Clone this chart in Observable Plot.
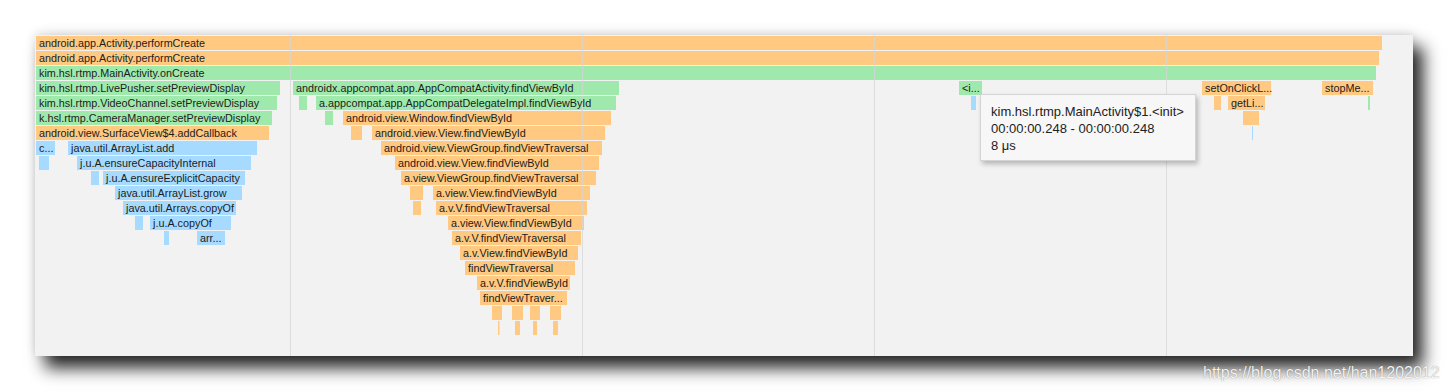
<!DOCTYPE html>
<html><head><meta charset="utf-8">
<script src="https://cdn.jsdelivr.net/npm/d3@7"></script>
<script src="https://cdn.jsdelivr.net/npm/@observablehq/plot@0.6"></script>
<style>
html,body{margin:0;padding:0;background:#fff;width:1448px;height:392px;overflow:hidden;}
#panel{position:absolute;left:35px;top:35px;width:1378px;height:321px;background:#f2f2f2;box-shadow:10px 12px 16px rgba(0,0,0,0.85), 0 -2px 10px rgba(0,0,0,0.12);}
#panel svg{display:block;}
#tip{position:absolute;background:#f7f7f7;border:1px solid #d4d4d4;box-shadow:2px 3px 5px rgba(0,0,0,0.25);font:13px "Liberation Sans",Arial,sans-serif;color:#222;padding:8px 10px 6px 10px;line-height:17px;white-space:nowrap;width:194px;height:51px;box-sizing:content-box;}
#wm{position:absolute;left:1203px;top:364px;font:16px "Liberation Sans",Arial,sans-serif;color:#f2f2f2;text-shadow:0 0 1px rgba(0,0,0,0.45);}
</style></head><body>
<div id="panel"></div>
<div id="wm">https://blog.csdn.net/han1202012</div>
<script>
// Flame chart frames (time in chart units, depth = call stack level)
const labels = [
  "android.app.Activity.performCreate","android.app.Activity.performCreate","kim.hsl.rtmp.MainActivity.onCreate",
  "kim.hsl.rtmp.LivePusher.setPreviewDisplay","androidx.appcompat.app.AppCompatActivity.findViewById","<i...","setOnClickL...","stopMe...",
  "kim.hsl.rtmp.VideoChannel.setPreviewDisplay","","a.appcompat.app.AppCompatDelegateImpl.findViewById","","","getLi...","",
  "k.hsl.rtmp.CameraManager.setPreviewDisplay","","android.view.Window.findViewById","",
  "android.view.SurfaceView$4.addCallback","","android.view.View.findViewById","",
  "c...","java.util.ArrayList.add","android.view.ViewGroup.findViewTraversal",
  "","j.u.A.ensureCapacityInternal","android.view.View.findViewById",
  "","j.u.A.ensureExplicitCapacity","a.view.ViewGroup.findViewTraversal",
  "java.util.ArrayList.grow","","a.view.View.findViewById",
  "java.util.Arrays.copyOf","","a.v.V.findViewTraversal",
  "","j.u.A.copyOf","a.view.View.findViewById",
  "","arr...","a.v.V.findViewTraversal",
  "a.v.View.findViewById","findViewTraversal","a.v.V.findViewById","findViewTraver...",
  "","","","",
  "","","",""
];
const depths = [
  0,1,2,
  3,3,3,3,3,
  4,4,4,4,4,4,4,
  5,5,5,5,
  6,6,6,6,
  7,7,7,
  8,8,8,
  9,9,9,
  10,10,10,
  11,11,11,
  12,12,12,
  13,13,13,
  14,15,16,17,
  18,18,18,18,
  19,19,19,19
];
const starts = [
  1,1,1,
  1,258,924,1167,1287,
  1,264,281,936,1179,1193,1333,
  1,290,308,1208,
  1,316,337,1217,
  1,33,346,
  4,42,360,
  56,68,366,
  80,375,398,
  88,378,401,
  100,115,413,
  129,162,417,
  425,430,442,445,
  457,477,495,515,
  463,480,498,518
];
const ends = [
  1347,1344,1341,
  245,584,947,1236,1338,
  242,272,581,941,1186,1230,1335,
  237,298,576,1224,
  234,327,570,1218,
  20,222,567,
  14,216,564,
  64,210,561,
  207,388,555,
  201,386,552,
  108,196,549,
  134,190,546,
  543,540,535,532,
  467,488,505,526,
  464.5,485,502,523
];
// P = platform (orange), U = user code (green), L = java library (blue)
const kinds = [
  "P","P","U",
  "U","U","U","P","P",
  "U","U","U","L","P","P","U",
  "U","U","P","P",
  "P","P","P","L",
  "L","L","P",
  "L","L","P",
  "L","L","P",
  "L","P","P",
  "L","P","P",
  "L","L","P",
  "L","L","P",
  "P","P","P","P",
  "P","P","P","P",
  "P","P","P","P"
];
const gridTimes = [255, 547, 839, 1131];
const tooltipLines = ["kim.hsl.rtmp.MainActivity$1.<init>", "00:00:00.248 - 00:00:00.248", "8 μs"];
const tooltipFrame = 11; // the hovered frame's child bar

const frames = labels.map((label, i) => ({label, depth: depths[i], start: starts[i], end: ends[i], kind: kinds[i]}));

const chart = Plot.plot({
  width: 1378, height: 321,
  marginTop: 0, marginRight: 0, marginBottom: 0, marginLeft: 0,
  x: {domain: [0, 1378], range: [0, 1378], axis: null},
  y: {domain: [0, 21.4], range: [1, 322], axis: null},
  color: {domain: ["P", "U", "L"], range: ["#ffc981", "#a0e9ad", "#a6dbff"]},
  style: {background: "transparent", overflow: "visible"},
  marks: [
    Plot.rect(frames, {x1: "start", x2: "end", y1: "depth", y2: d => d.depth + 1, insetBottom: 1, fill: "kind"}),
    Plot.ruleX(gridTimes, {stroke: "#d6d6d6", strokeOpacity: 0.75}),
    Plot.text(frames.filter(d => d.label), {
      x: "start", y: d => d.depth + 0.467, text: "label", textAnchor: "start", dx: 2.5,
      fontSize: 10.8, fontFamily: "'Liberation Sans', Arial, sans-serif", fill: "#1c1c1c"
    })
  ]
});
const panel = document.getElementById("panel");
panel.appendChild(chart);

const xs = chart.scale("x"), ys = chart.scale("y");
const f = frames[tooltipFrame];
const tip = document.createElement("div");
tip.id = "tip";
tip.style.left = (xs.apply(f.end) + 4) + "px";
tip.style.top = (ys.apply(f.depth) - 2) + "px";
tooltipLines.forEach(t => { const d = document.createElement("div"); d.textContent = t; tip.appendChild(d); });
panel.appendChild(tip);
</script>
</body></html>
